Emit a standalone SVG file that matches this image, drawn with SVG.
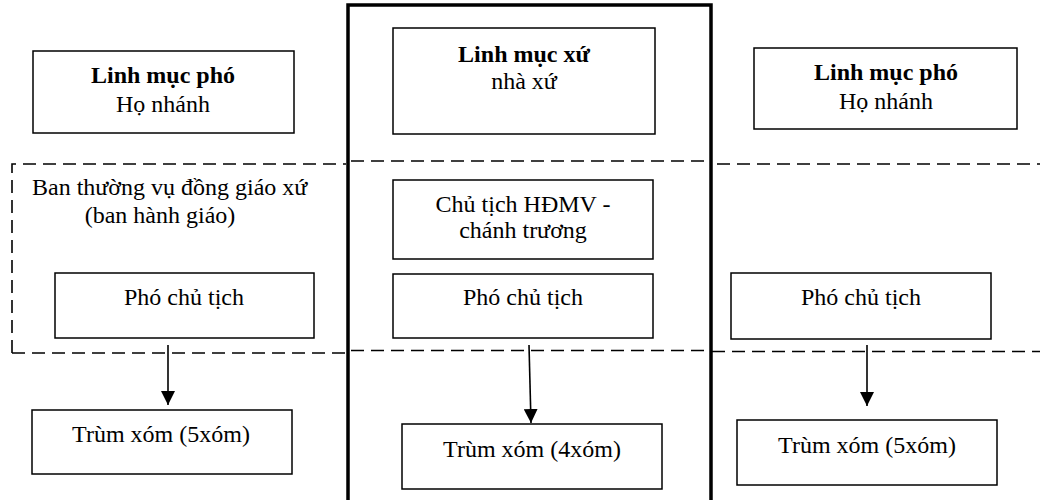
<svg xmlns="http://www.w3.org/2000/svg" width="1040" height="500" viewBox="0 0 1040 500">
<defs>
<style>
.box{fill:#fff;stroke:#000;stroke-width:1.5}
.dash{fill:none;stroke:#000;stroke-width:1.6;stroke-dasharray:13 7}
.t{font-family:"Liberation Serif","Times New Roman",serif;font-size:24px;fill:#000;text-anchor:middle}
.b{font-weight:bold}
.conn{stroke:#000;stroke-width:1.6;fill:none}
</style>
<marker id="ah" markerUnits="userSpaceOnUse" markerWidth="14" markerHeight="14" refX="13" refY="6.5" orient="auto" viewBox="0 0 13 13">
<path d="M0,0 L13,6.5 L0,13 z" fill="#000"/>
</marker>
</defs>
<rect width="1040" height="500" fill="#fff"/>

<g id="parish-frame">
<path d="M348,520 V5 H711 V520" fill="none" stroke="#000" stroke-width="3.5"/>
</g>

<g id="council-band">
<path class="dash" d="M12,353 V164 H346"/>
<path class="dash" d="M351,161 H710"/>
<path class="dash" d="M717,164 H1040"/>
<path class="dash" d="M12,353 H346"/>
<path class="dash" d="M351,350.5 H710"/>
<path class="dash" d="M712,351.5 H1040"/>
<text class="t" x="32" y="195" style="text-anchor:start">Ban thường vụ đồng giáo xứ</text>
<text class="t" x="160" y="223">(ban hành giáo)</text>
</g>

<g id="n-linhmucpho-left">
<rect class="box" x="33" y="51" width="261" height="82"/>
<text class="t b" x="163" y="83">Linh mục phó</text>
<text class="t" x="163" y="112">Họ nhánh</text>
</g>

<g id="n-linhmucxu">
<rect class="box" x="393" y="28" width="262" height="106"/>
<text class="t b" x="524" y="62">Linh mục xứ</text>
<text class="t" x="524" y="89">nhà xứ</text>
</g>

<g id="n-linhmucpho-right">
<rect class="box" x="754" y="48" width="263" height="81"/>
<text class="t b" x="886" y="80">Linh mục phó</text>
<text class="t" x="886" y="109">Họ nhánh</text>
</g>

<g id="n-chutich">
<rect class="box" x="393" y="180" width="260" height="79"/>
<text class="t" x="523" y="212">Chủ tịch HĐMV -</text>
<text class="t" x="523" y="238">chánh trương</text>
</g>

<g id="n-phochutich-left">
<rect class="box" x="55" y="273" width="259" height="65"/>
<text class="t" x="184" y="305">Phó chủ tịch</text>
</g>

<g id="n-phochutich-center">
<rect class="box" x="393" y="274" width="260" height="64"/>
<text class="t" x="523" y="305">Phó chủ tịch</text>
</g>

<g id="n-phochutich-right">
<rect class="box" x="731" y="273" width="260" height="66"/>
<text class="t" x="861" y="305">Phó chủ tịch</text>
</g>

<g id="n-trumxom-left">
<rect class="box" x="32" y="410" width="260" height="64"/>
<text class="t" x="161" y="442">Trùm xóm (5xóm)</text>
</g>

<g id="n-trumxom-center">
<rect class="box" x="402" y="424" width="260" height="65"/>
<text class="t" x="532" y="457">Trùm xóm (4xóm)</text>
</g>

<g id="n-trumxom-right">
<rect class="box" x="737" y="420" width="260" height="65"/>
<text class="t" x="867" y="453">Trùm xóm (5xóm)</text>
</g>

<g id="connectors">
<line class="conn" x1="168" y1="345" x2="168" y2="405" marker-end="url(#ah)"/>
<line class="conn" x1="529" y1="345" x2="531" y2="423" marker-end="url(#ah)"/>
<line class="conn" x1="867" y1="345" x2="867" y2="406" marker-end="url(#ah)"/>
</g>
</svg>
